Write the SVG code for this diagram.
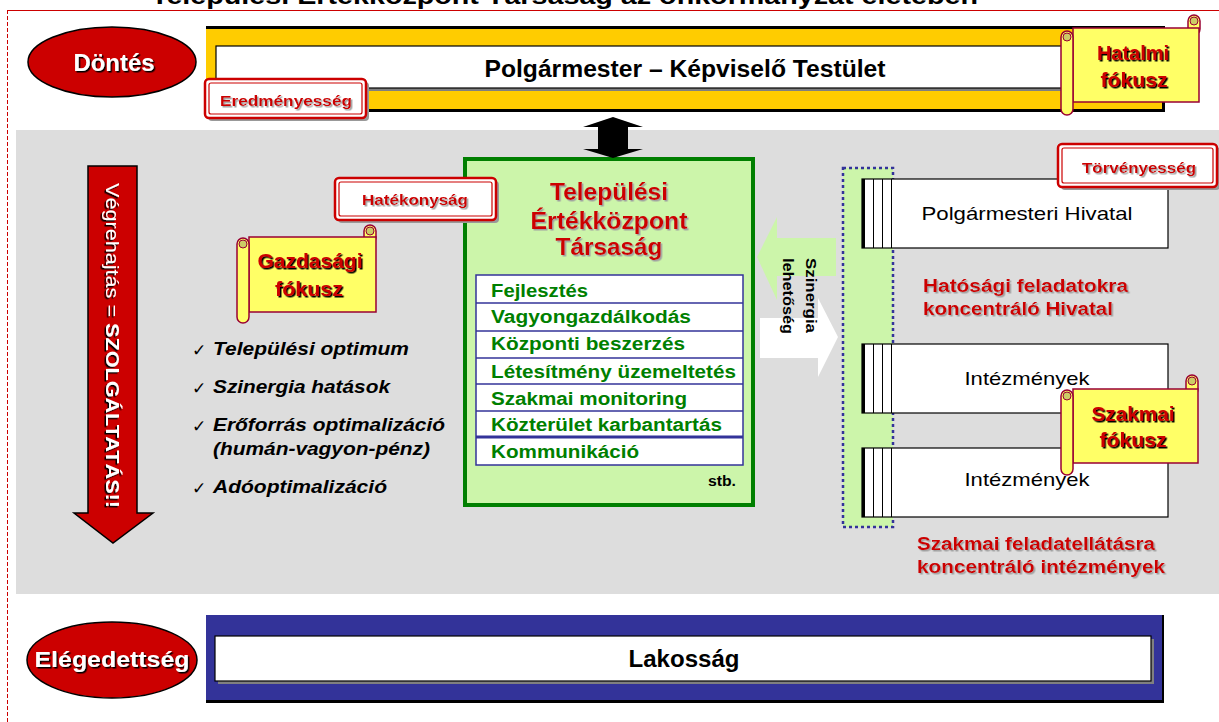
<svg xmlns="http://www.w3.org/2000/svg" width="1219" height="722" viewBox="0 0 1219 722">
<style>
text{font-family:"Liberation Sans",Arial,sans-serif}
.b{font-weight:bold}
.red{fill:#CC0000}
.wh{fill:#FFFFFF}
.blk{fill:#000000}
.grn{fill:#007F00;font-weight:bold;font-size:18px}
.chk{font-family:"DejaVu Sans",sans-serif;font-size:17px;fill:#000}
.it{font-style:italic;font-weight:bold;font-size:19px;fill:#000}
.scroll{fill:#FFFF66;stroke:#990033;stroke-width:1.5}
.knob{fill:#CCCC66;stroke:#990033;stroke-width:1}
.lblsh{fill:#999999}
.lbl{fill:#FFFFFF;stroke:#CC0000;stroke-width:2.5}
.lbli{fill:none;stroke:#CC0000;stroke-width:1.2}
.box{fill:#FFFFFF;stroke:#000;stroke-width:1.2}
.stripe{stroke:#000;stroke-width:1}
.row{stroke:#333399;stroke-width:1.5}
</style>
<defs>
<filter id="shg" x="-10%" y="-30%" width="130%" height="170%"><feDropShadow dx="1.5" dy="1.5" stdDeviation="0" flood-color="#A0A0A0"/></filter>
<filter id="shd" x="-10%" y="-30%" width="130%" height="170%"><feDropShadow dx="1.5" dy="1.5" stdDeviation="0" flood-color="#000000"/></filter>
</defs>
<rect x="0" y="0" width="1219" height="722" fill="#FFFFFF"/>
<!-- title (cut off at the top, as in the picture) -->
<text x="151" y="4" class="b blk" font-size="24" textLength="827" lengthAdjust="spacingAndGlyphs">Települési Értékközpont Társaság az önkormányzat életében</text>
<line x1="7" y1="10.5" x2="1219" y2="10.5" stroke="#CC0000" stroke-width="1"/>
<line x1="7.5" y1="10" x2="7.5" y2="722" stroke="#CC0000" stroke-width="1" stroke-dasharray="4 2"/>
<!-- gray panel -->
<rect x="16" y="130" width="1203" height="464" fill="#DDDDDD"/>

<g id="dontes">
<ellipse cx="112" cy="62" rx="84" ry="35" fill="#CC0000" stroke="#000" stroke-width="1.5"/>
<text x="114" y="71" text-anchor="middle" class="b wh" font-size="23" filter="url(#shd)" textLength="81" lengthAdjust="spacingAndGlyphs">Döntés</text>
</g>

<g id="polgarmester-testulet">
<rect x="206" y="26" width="959" height="86" fill="#000"/>
<rect x="206" y="29" width="956" height="80" fill="#FFCC00"/>
<rect x="219" y="49" width="944" height="42" fill="#808080"/>
<rect x="216" y="46" width="944" height="42" class="box"/>
<text x="685" y="77" text-anchor="middle" class="b blk" font-size="23" textLength="401" lengthAdjust="spacingAndGlyphs">Polgármester – Képviselő Testület</text>
</g>

<g id="eredmenyesseg">
<rect x="208" y="82" width="161" height="39" rx="4" class="lblsh"/>
<rect x="205" y="79" width="161" height="39" rx="4" class="lbl"/>
<rect x="209" y="83" width="153" height="31" rx="2" class="lbli"/>
<text x="286" y="106" text-anchor="middle" class="b red" font-size="15" filter="url(#shg)" textLength="132" lengthAdjust="spacingAndGlyphs">Eredményesség</text>
</g>

<g id="hatalmi-fokusz">
<rect x="1188" y="15" width="12" height="20" rx="6" class="scroll"/>
<circle cx="1194" cy="21" r="4" class="knob"/>
<rect x="1073" y="28" width="126" height="74" class="scroll"/>
<rect x="1061" y="31" width="12" height="84" rx="6" class="scroll"/>
<circle cx="1067" cy="37" r="4" class="knob"/>
<text x="1133" y="60" text-anchor="middle" class="b red" font-size="20" filter="url(#shd)">Hatalmi</text>
<text x="1134" y="87" text-anchor="middle" class="b red" font-size="20" filter="url(#shd)" textLength="67" lengthAdjust="spacingAndGlyphs">fókusz</text>
</g>

<g id="vegrehajtas">
<path d="M88,166 H137 V513 H153 L113,543 L74,513 H88 Z" fill="#CC0000" stroke="#000" stroke-width="1.5"/>
<text transform="translate(106,183) rotate(90)" class="wh" font-size="18" filter="url(#shd)" textLength="325" lengthAdjust="spacingAndGlyphs">Végrehajtás = <tspan font-weight="bold">SZOLGÁLTATÁS!!</tspan></text>
</g>

<g id="gazdasagi-fokusz">
<rect x="364" y="225" width="12" height="18" rx="6" class="scroll"/>
<circle cx="370" cy="231" r="4" class="knob"/>
<rect x="249" y="237" width="127" height="75" class="scroll"/>
<rect x="237" y="238" width="12" height="85" rx="6" class="scroll"/>
<circle cx="243" cy="244" r="4" class="knob"/>
<text x="310" y="268" text-anchor="middle" class="b red" font-size="20" filter="url(#shd)" textLength="105" lengthAdjust="spacingAndGlyphs">Gazdasági</text>
<text x="309" y="296" text-anchor="middle" class="b red" font-size="20" filter="url(#shd)" textLength="68" lengthAdjust="spacingAndGlyphs">fókusz</text>
</g>

<g id="celok">
<text x="192" y="356" class="chk">✓</text>
<text x="213" y="355" class="it" textLength="196" lengthAdjust="spacingAndGlyphs">Települési optimum</text>
<text x="192" y="394" class="chk">✓</text>
<text x="213" y="393" class="it" textLength="177" lengthAdjust="spacingAndGlyphs">Szinergia hatások</text>
<text x="192" y="432" class="chk">✓</text>
<text x="213" y="431" class="it" textLength="232" lengthAdjust="spacingAndGlyphs">Erőforrás optimalizáció</text>
<text x="213" y="455" class="it" textLength="217" lengthAdjust="spacingAndGlyphs">(humán-vagyon-pénz)</text>
<text x="192" y="494" class="chk">✓</text>
<text x="213" y="493" class="it" textLength="174" lengthAdjust="spacingAndGlyphs">Adóoptimalizáció</text>
</g>

<g id="ertekkozpont">
<rect x="465" y="159" width="288" height="346" fill="#CCF5AA" stroke="#007F00" stroke-width="4"/>
<text x="609" y="200" text-anchor="middle" class="b red" font-size="23" filter="url(#shg)" textLength="118" lengthAdjust="spacingAndGlyphs">Települési</text>
<text x="609" y="229" text-anchor="middle" class="b red" font-size="23" filter="url(#shg)" textLength="157" lengthAdjust="spacingAndGlyphs">Értékközpont</text>
<text x="609" y="255" text-anchor="middle" class="b red" font-size="23" filter="url(#shg)" textLength="107" lengthAdjust="spacingAndGlyphs">Társaság</text>
<rect x="476" y="275" width="267" height="190" fill="#FFFFFF" class="row"/>
<line x1="476" y1="303" x2="743" y2="303" class="row"/>
<line x1="476" y1="331" x2="743" y2="331" class="row"/>
<line x1="476" y1="358" x2="743" y2="358" class="row"/>
<line x1="476" y1="384" x2="743" y2="384" class="row"/>
<line x1="476" y1="411" x2="743" y2="411" class="row"/>
<line x1="476" y1="437" x2="743" y2="437" stroke="#333399" stroke-width="3"/>
<text x="491" y="297" class="grn" textLength="97" lengthAdjust="spacingAndGlyphs">Fejlesztés</text>
<text x="491" y="323" class="grn" textLength="200" lengthAdjust="spacingAndGlyphs">Vagyongazdálkodás</text>
<text x="491" y="350" class="grn" textLength="194" lengthAdjust="spacingAndGlyphs">Központi beszerzés</text>
<text x="491" y="378" class="grn" textLength="245" lengthAdjust="spacingAndGlyphs">Létesítmény üzemeltetés</text>
<text x="491" y="405" class="grn" textLength="196" lengthAdjust="spacingAndGlyphs">Szakmai monitoring</text>
<text x="491" y="431" class="grn" textLength="231" lengthAdjust="spacingAndGlyphs">Közterület karbantartás</text>
<text x="491" y="458" class="grn" textLength="148" lengthAdjust="spacingAndGlyphs">Kommunikáció</text>
<text x="708" y="486" font-family="Liberation Serif, serif" font-weight="bold" font-size="14" fill="#000" textLength="28" lengthAdjust="spacingAndGlyphs">stb.</text>
</g>

<g id="hatekonysag">
<rect x="338" y="181" width="161" height="42" rx="4" class="lblsh"/>
<rect x="335" y="178" width="161" height="42" rx="4" class="lbl"/>
<rect x="339" y="182" width="153" height="34" rx="2" class="lbli"/>
<text x="415" y="205" text-anchor="middle" class="b red" font-size="15" filter="url(#shg)" textLength="106" lengthAdjust="spacingAndGlyphs">Hatékonyság</text>
</g>

<g id="hivatal-oszlop">
<rect x="843" y="168" width="50" height="359" fill="#CCF5AA" stroke="#333399" stroke-width="2.5" stroke-dasharray="3 3"/>
</g>

<g id="polgarmesteri-hivatal">
<rect x="862" y="179" width="306" height="69" class="box"/>
<line x1="863.5" y1="179" x2="863.5" y2="248" stroke="#000" stroke-width="3"/>
<line x1="873.5" y1="179" x2="873.5" y2="248" class="stripe"/>
<line x1="882.5" y1="179" x2="882.5" y2="248" class="stripe"/>
<line x1="891.5" y1="179" x2="891.5" y2="248" class="stripe"/>
<text x="1027" y="220" text-anchor="middle" class="blk" font-size="19" textLength="211" lengthAdjust="spacingAndGlyphs">Polgármesteri Hivatal</text>
</g>

<g id="torvenyesseg">
<rect x="1061" y="147" width="159" height="43" rx="4" class="lblsh"/>
<rect x="1058" y="144" width="159" height="43" rx="4" class="lbl"/>
<rect x="1062" y="148" width="151" height="35" rx="2" class="lbli"/>
<text x="1139" y="173" text-anchor="middle" class="b red" font-size="15" filter="url(#shg)" textLength="114" lengthAdjust="spacingAndGlyphs">Törvényesség</text>
</g>

<g id="hatosagi-szoveg">
<text x="923" y="292" class="b red" font-size="18" filter="url(#shg)" textLength="205" lengthAdjust="spacingAndGlyphs">Hatósági feladatokra</text>
<text x="923" y="315" class="b red" font-size="18" filter="url(#shg)" textLength="190" lengthAdjust="spacingAndGlyphs">koncentráló Hivatal</text>
</g>

<g id="intezmenyek-1">
<rect x="862" y="344" width="306" height="69" class="box"/>
<line x1="863.5" y1="344" x2="863.5" y2="413" stroke="#000" stroke-width="3"/>
<line x1="873.5" y1="344" x2="873.5" y2="413" class="stripe"/>
<line x1="882.5" y1="344" x2="882.5" y2="413" class="stripe"/>
<line x1="891.5" y1="344" x2="891.5" y2="413" class="stripe"/>
<text x="1027" y="385" text-anchor="middle" class="blk" font-size="19" textLength="125" lengthAdjust="spacingAndGlyphs">Intézmények</text>
</g>

<g id="intezmenyek-2">
<rect x="862" y="448" width="306" height="69" class="box"/>
<line x1="863.5" y1="448" x2="863.5" y2="517" stroke="#000" stroke-width="3"/>
<line x1="873.5" y1="448" x2="873.5" y2="517" class="stripe"/>
<line x1="882.5" y1="448" x2="882.5" y2="517" class="stripe"/>
<line x1="891.5" y1="448" x2="891.5" y2="517" class="stripe"/>
<text x="1027" y="486" text-anchor="middle" class="blk" font-size="19" textLength="125" lengthAdjust="spacingAndGlyphs">Intézmények</text>
</g>

<g id="szakmai-fokusz">
<rect x="1186" y="375" width="12" height="20" rx="6" class="scroll"/>
<circle cx="1192" cy="381" r="4" class="knob"/>
<rect x="1073" y="389" width="125" height="74" class="scroll"/>
<rect x="1061" y="390" width="12" height="85" rx="6" class="scroll"/>
<circle cx="1067" cy="396" r="4" class="knob"/>
<text x="1133" y="421" text-anchor="middle" class="b red" font-size="20" filter="url(#shd)" textLength="83" lengthAdjust="spacingAndGlyphs">Szakmai</text>
<text x="1133" y="447" text-anchor="middle" class="b red" font-size="20" filter="url(#shd)" textLength="67" lengthAdjust="spacingAndGlyphs">fókusz</text>
</g>

<g id="szakmai-szoveg">
<text x="917" y="550" class="b red" font-size="18" filter="url(#shg)" textLength="238" lengthAdjust="spacingAndGlyphs">Szakmai feladatellátásra</text>
<text x="917" y="573" class="b red" font-size="18" filter="url(#shg)" textLength="248" lengthAdjust="spacingAndGlyphs">koncentráló intézmények</text>
</g>

<g id="elegedettseg">
<ellipse cx="112" cy="660" rx="85" ry="38" fill="#CC0000" stroke="#000" stroke-width="1.5"/>
<text x="112" y="667" text-anchor="middle" class="b wh" font-size="22" filter="url(#shd)" textLength="155" lengthAdjust="spacingAndGlyphs">Elégedettség</text>
</g>

<g id="lakossag">
<rect x="206" y="615" width="958" height="88" fill="#000"/>
<rect x="206" y="615" width="956" height="85" fill="#333399"/>
<rect x="218" y="639" width="936" height="45" fill="#808080"/>
<rect x="215" y="636" width="936" height="45" class="box"/>
<text x="684" y="667" text-anchor="middle" class="b blk" font-size="23" textLength="111" lengthAdjust="spacingAndGlyphs">Lakosság</text>
</g>

<g id="connectors">
<polygon points="613,117 643,127 628,127 628,149 643,149 613,158 583,149 598,149 598,127 583,127" fill="#000"/>
<polygon points="757,257 777,217 777,238 836,238 836,276 777,276 777,300" fill="#CCF5AA"/>
<polygon points="760,318 818,318 818,298 838,337 818,377 818,358 760,358" fill="#FFFFFF"/>
<text transform="translate(806,258) rotate(90)" class="b blk" font-size="14" textLength="75" lengthAdjust="spacingAndGlyphs">Szinergia</text>
<text transform="translate(783,258) rotate(90)" class="b blk" font-size="14" textLength="76" lengthAdjust="spacingAndGlyphs">lehetőség</text>
</g>
</svg>
